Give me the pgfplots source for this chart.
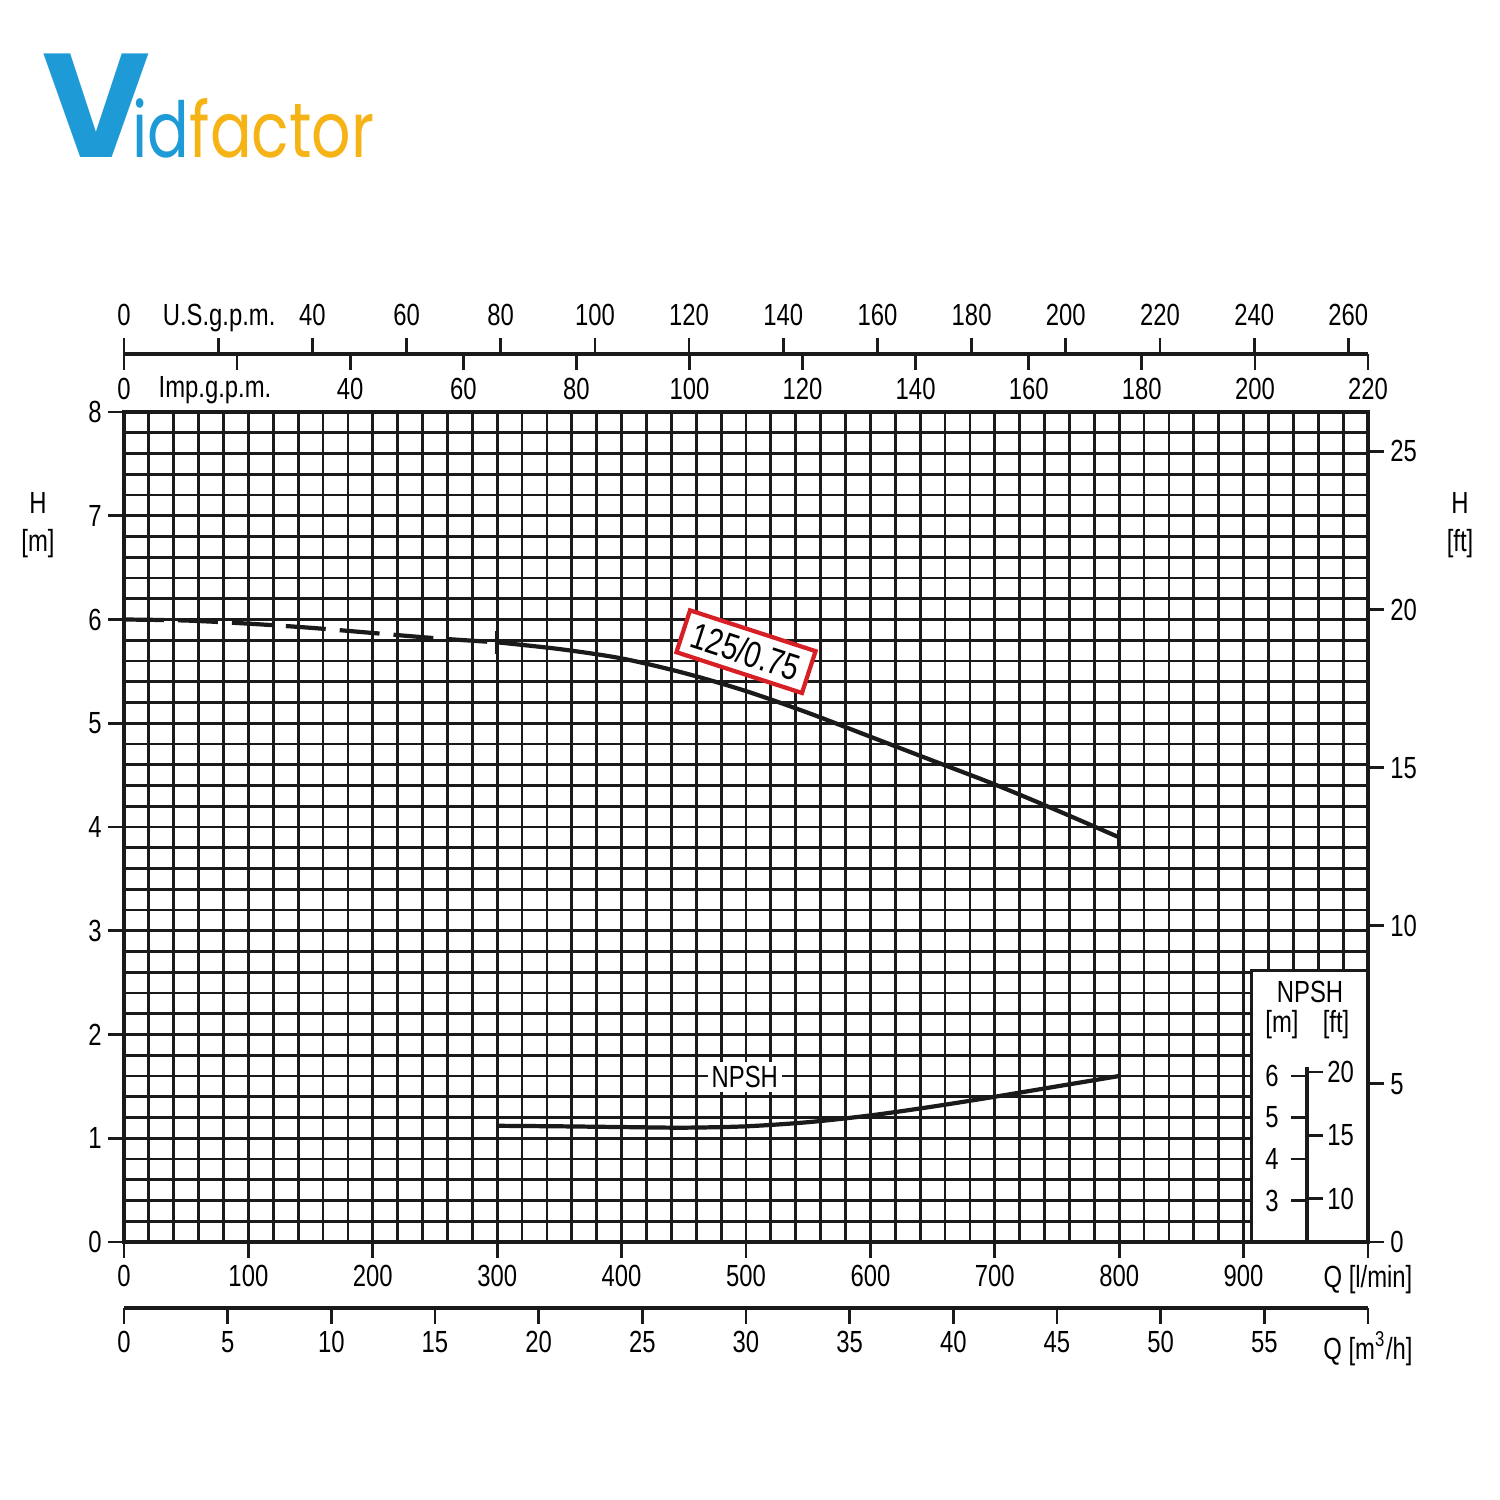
\documentclass[border=0pt]{standalone}
\usepackage{fontspec}
\setmainfont{Liberation Sans}[FakeStretch=0.78]
\newfontfamily\logofont{Poppins}[FakeStretch=0.8]
\newfontfamily\logofontV{Poppins}
\usepackage{pgfplots}
\usepackage{pgfplotstable}
\pgfplotsset{compat=1.18}
\definecolor{ink}{HTML}{1A1A1A}
\definecolor{logoblue}{HTML}{1E9AD6}
\definecolor{logoorange}{HTML}{F5B316}
\definecolor{boxred}{HTML}{D71F26}

\pgfplotstableread{
q h
0 6.00
50 5.99
100 5.96
150 5.92
200 5.87
250 5.82
300 5.78
}\hdash
\pgfplotstableread{
q h
300 5.78
350 5.715
400 5.625
450 5.485
500 5.31
550 5.10
600 4.87
650 4.64
700 4.41
750 4.16
800 3.90
}\hsolid
\pgfplotstableread{
q npsh
300 1.12
350 1.115
400 1.108
450 1.102
500 1.115
550 1.155
600 1.22
650 1.305
700 1.40
750 1.50
800 1.60
}\npsh

\pgfplotsset{
  scalebase/.style={
    scale only axis, width=124.4mm,
    axis line style={-, ink, line width=0.9pt},
    tick style={ink, line width=0.8pt},
    major tick length=1.6mm, minor tick length=0pt,
    tick align=outside,
    tick label style={font=\fontsize{8.7}{10.4}\selectfont},
  },
}

\begin{document}
\begin{tikzpicture}[font=\fontsize{8.7}{10.4}\selectfont]
\path[use as bounding box] (-12.4mm,-25.8mm) rectangle (137.6mm,124.2mm);

% main axis (l/min, m)
\begin{axis}[
  scalebase, at={(0,0)}, anchor=south west, height=83mm,
  xmin=0, xmax=1000, ymin=0, ymax=8,
  xtick={0,100,...,1000},
  xticklabels={0,100,200,300,400,500,600,700,800,900,Q [l/min]},
  ytick={0,1,...,8},
  yticklabels={0,1,2,3,4,5,6,7,8},
  xticklabel style={yshift=0.5mm},
  yticklabel style={xshift=0.6mm},
  minor x tick num=4, minor y tick num=4,
  grid=both,
  major grid style={ink, line width=0.8pt},
  minor grid style={ink, line width=0.8pt},
  tick pos=left,
]
\fill[white] (axis cs:906.5,0) rectangle (axis cs:1000,2.62);
\draw[ink, line width=0.8pt] (axis cs:906.5,0) -- (axis cs:906.5,2.62) -- (axis cs:1000,2.62);
\draw[ink, line width=0.9pt] (axis cs:900,0) -- (axis cs:1000,0) -- (axis cs:1000,2.7);
\addplot[ink, line width=1.2pt, dash pattern=on 4mm off 1.4mm, smooth] table[x=q,y=h]{\hdash};
\addplot[ink, line width=1.2pt, smooth] table[x=q,y=h]{\hsolid};
\addplot[ink, line width=1.2pt, smooth] table[x=q,y=npsh]{\npsh};
\addplot[ink, line width=1pt] coordinates {(300,5.67) (300,5.89)};
\addplot[ink, line width=1pt] coordinates {(800,3.82) (800,3.97)};
\node[fill=white, inner sep=0.4mm] at (axis cs:499,1.59) {NPSH};
\node[rotate=-18, draw=boxred, line width=1.2pt, fill=white, minimum width=13.2mm,
      minimum height=4.4mm, inner sep=0.5mm, font=\fontsize{10.5}{12}\selectfont]
      at (axis cs:500,5.69) {125/0.75};
\end{axis}

% right axis in ft
\begin{axis}[
  scalebase, at={(0,0)}, anchor=south west, height=83mm,
  xmin=0, xmax=1000, ymin=0, ymax=26.2467,
  hide x axis, axis y line*=right,
  ytick={0,5,...,25}, yticklabels={0,5,10,15,20,25},
  yticklabel style={xshift=-0.6mm},
]
\end{axis}

% U.S. gpm scale
\begin{axis}[
  scalebase, at={(0,88.8mm)}, anchor=north west, height=4mm, clip=false,
  xmin=0, xmax=264.172, ymin=0, ymax=1,
  hide y axis, axis x line*=top,
  xtick={0,20,...,260},
  xticklabels={0,,40,60,80,100,120,140,160,180,200,220,240,260},
]
\node at (axis cs:20.2,1) [yshift=3.6mm] {U.S.g.p.m.};
\end{axis}

% Imp. gpm scale
\begin{axis}[
  scalebase, at={(0,88.8mm)}, anchor=south west, height=4mm, clip=false,
  xmin=0, xmax=220, ymin=0, ymax=1,
  hide y axis, axis x line*=bottom,
  xtick={0,20,...,220},
  xticklabels={0,,40,60,80,100,120,140,160,180,200,220},
  xticklabel style={yshift=0.4mm},
]
\node at (axis cs:16.1,0) [yshift=-3.6mm] {Imp.g.p.m.};
\end{axis}

% m3/h scale
\begin{axis}[
  scalebase, at={(0,-6.6mm)}, anchor=south west, height=4mm,
  xmin=0, xmax=60, ymin=0, ymax=1,
  hide y axis, axis x line*=bottom,
  xtick={0,5,...,60},
  xticklabels={0,5,10,15,20,25,30,35,40,45,50,55,Q [m\textsuperscript{3}/h]},
  xticklabel style={yshift=0.5mm},
]
\end{axis}

% NPSH mini scale (m)
\begin{axis}[
  scalebase, width=0.1mm, at={(118.3mm,0)}, anchor=south west, height=17.5mm,
  xmin=0, xmax=1, ymin=2, ymax=6.2175,
  hide x axis, axis y line*=left,
  ytick={3,4,5,6}, yticklabels={3,4,5,6},
]
\end{axis}
% NPSH mini scale (ft)
\begin{axis}[
  scalebase, width=0.1mm, at={(118.2mm,0)}, anchor=south west, height=17.5mm,
  xmin=0, xmax=1, ymin=6.5617, ymax=20.398,
  hide x axis, axis y line*=right, y axis line style={draw=none},
  ytick={10,15,20}, yticklabels={10,15,20},
  yticklabel style={xshift=-0.8mm},
]
\end{axis}

\node at (118.6mm,25.0mm) {NPSH};
\node at (115.8mm,21.7mm) {[m]};
\node at (121.2mm,21.7mm) {[ft]};

\node[align=center, font=\fontsize{8.7}{11}\selectfont] at (-8.6mm,71.7mm) {H\\{[m]}};
\node[align=center, font=\fontsize{8.7}{11}\selectfont] at (133.6mm,71.7mm) {H\\{[ft]}};

% logo
\node[anchor=base west, inner sep=0, text=logoblue, font=\logofontV\bfseries\fontsize{42}{42}\selectfont] at (-8.2mm,108.4mm) {V};
\node[anchor=base west, inner sep=0, font=\logofont\fontsize{22}{22}\selectfont] at (0.8mm,108.4mm) {\textcolor{logoblue}{id}\textcolor{logoorange}{factor}};
\end{tikzpicture}
\end{document}
